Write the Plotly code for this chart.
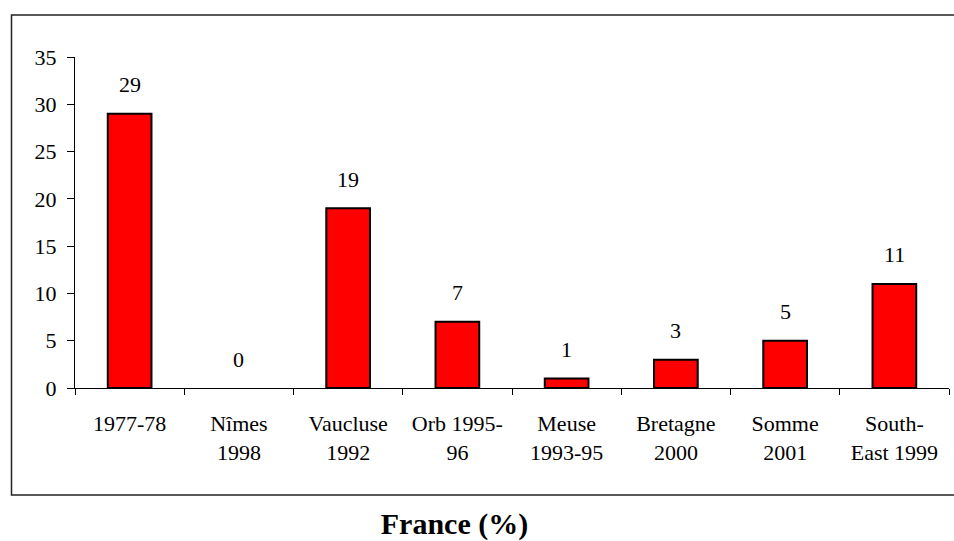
import plotly.graph_objects as go

categories = ["1977-78", "Nîmes<br>1998", "Vaucluse<br>1992", "Orb 1995-<br>96",
              "Meuse<br>1993-95", "Bretagne<br>2000", "Somme<br>2001", "South-<br>East 1999"]
values = [29, 0, 19, 7, 1, 3, 5, 11]
y_ticks = [0, 5, 10, 15, 20, 25, 30, 35]

FONT = "Liberation Serif, Times New Roman, DejaVu Serif, serif"
W, H = 954, 541
L, R, T, B = 75, 5, 57, 153
pw = W - L - R
ph = H - T - B

fig = go.Figure()
fig.add_trace(go.Bar(
    x=categories, y=values,
    marker=dict(color="#FF0000",
                line=dict(color="black", width=[2 if v else 0 for v in values])),
    width=0.40,
    hoverinfo="x+y",
))

for c, v in zip(categories, values):
    fig.add_annotation(x=c, y=v, text=str(v), showarrow=False,
                       yanchor="middle", yshift=29,
                       font=dict(family=FONT, size=22, color="black"))

def px_to_paper_x(px):
    return (px - L) / pw

def px_to_paper_y(py):
    return (H - B - py) / ph

fig.add_shape(type="rect", xref="paper", yref="paper",
              x0=px_to_paper_x(11.5), x1=px_to_paper_x(956),
              y0=px_to_paper_y(495), y1=px_to_paper_y(15),
              line=dict(color="#222222", width=1.5), fillcolor="rgba(0,0,0,0)",
              layer="below")

fig.update_layout(
    width=W, height=H,
    margin=dict(l=L, r=R, t=T, b=B),
    paper_bgcolor="white", plot_bgcolor="white",
    showlegend=False,
    font=dict(family=FONT, size=22, color="black"),
    title=dict(text="<b>France (%)</b>", x=px_to_paper_x(454.5), xref="paper",
               y=1 - 523 / H, yref="container", xanchor="center", yanchor="middle",
               font=dict(family=FONT, size=30, color="black")),
    xaxis=dict(
        type="category", tickson="boundaries", ticks="outside", ticklen=6,
        tickcolor="black", tickwidth=1, showline=True, linecolor="black",
        linewidth=1, showgrid=False, ticklabelstandoff=16,
        tickfont=dict(family=FONT, size=22, color="black"),
    ),
    yaxis=dict(
        range=[0, 35], tickvals=y_ticks, ticks="outside", ticklen=7,
        tickcolor="black", tickwidth=1, showline=True, linecolor="black",
        linewidth=1, showgrid=False, zeroline=False, ticklabelstandoff=6,
        tickfont=dict(family=FONT, size=22, color="black"),
    ),
)

fig.write_html("out.html", config={"displayModeBar": False},
               post_script="document.body.style.margin='0';document.body.style.overflow='hidden';")
